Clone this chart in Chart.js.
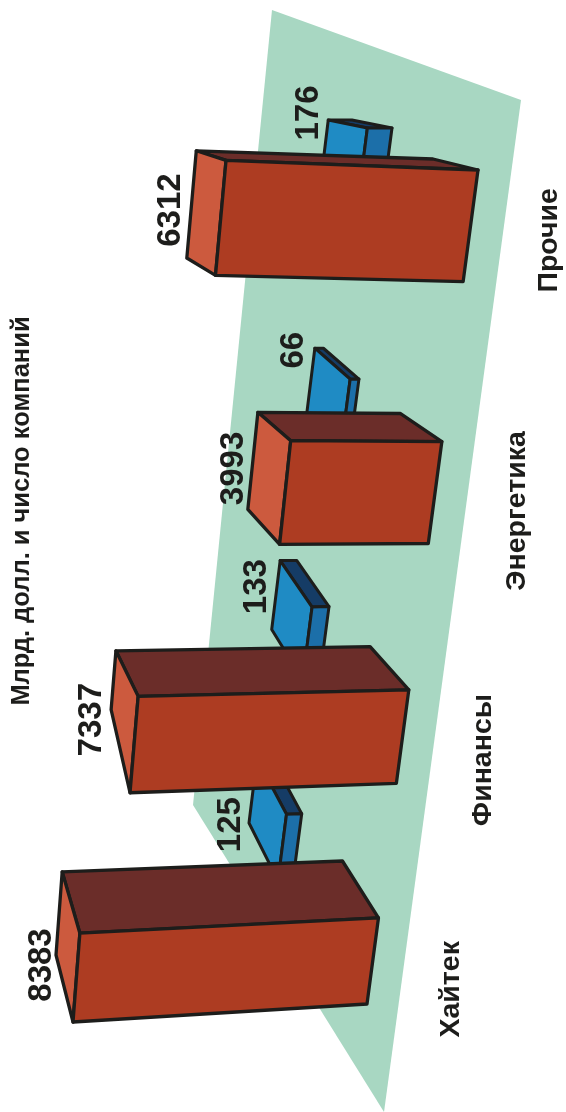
<!DOCTYPE html>
<html>
<head>
<meta charset="utf-8">
<style>
  html, body { margin: 0; padding: 0; background: #fff; }
  canvas { display: block; }
</style>
<script src="https://cdn.jsdelivr.net/npm/chart.js@4"></script>
</head>
<body>
<canvas id="chart" width="566" height="1112"></canvas>
<script>
const categories = ['Хайтек', 'Финансы', 'Энергетика', 'Прочие'];
const capitalization = [8383, 7337, 3993, 6312];
const companies = [125, 133, 66, 176];
const axisTitle = 'Млрд. долл. и число компаний';

// the picture is a tilted 3D view, each box sits between two planes
const redFrontPlane = { p00: [367, 1004], p10: [73, 1022], p11: [140, 157], p01: [478, 170] };
const redBackPlane = { p00: [332, 942], p10: [56, 955], p11: [116, 148], p01: [433, 159] };
const blueFrontPlane = { p00: [293, 880], p10: [269, 881], p11: [364, 128], p01: [392, 128] };
const blueBackPlane = { p00: [264, 823], p10: [240, 823], p11: [325, 120], p01: [352, 120] };
const floorCorners = [[272, 10], [521, 100], [384, 1112], [193, 805]];

const redFaces = { front: '#ad3c22', cap: '#cc5a3e', side: '#6b2d29' };
const blueFaces = { front: '#1c6fa9', cap: '#1f8bc4', side: '#153c66' };
const outline = '#1d1d1b';

// the finance box has a shorter far edge on its end face in the drawing
const redCapTrim = [0, 0.35, 0, 0];
const blueCapTrim = [0, 0, 0, 0];

// label nudges from their anchor corner
const redLabelShift = [[-14, 10], [-19, 10], [-14, -41], [-16, -48]];
const blueLabelShift = [[-26, 66], [-23, 26], [-21, 2], [-19, -7]];
const categoryShift = [[78, 28], [81, 23], [82, 18], [79, 14]];

// unit square (t, s) to a quad, Heckbert's formula
function makePlane(q) {
    const { p00, p10, p11, p01 } = q;
    const sx = p00[0] - p10[0] + p11[0] - p01[0];
    const sy = p00[1] - p10[1] + p11[1] - p01[1];
    const dx1 = p10[0] - p11[0], dy1 = p10[1] - p11[1];
    const dx2 = p01[0] - p11[0], dy2 = p01[1] - p11[1];
    const d = dx1 * dy2 - dx2 * dy1;
    const g = (sx * dy2 - dx2 * sy) / d;
    const h = (dx1 * sy - sx * dy1) / d;
    return function(t, s) {
        const w = 1 + g * t + h * s;
        return [
            (p00[0] + (p10[0] * (1 + g) - p00[0]) * t + (p01[0] * (1 + h) - p00[0]) * s) / w,
            (p00[1] + (p10[1] * (1 + g) - p00[1]) * t + (p01[1] * (1 + h) - p00[1]) * s) / w
        ];
    };
}

function fillFace(ctx, points, color) {
    ctx.beginPath();
    points.forEach((p, i) => i ? ctx.lineTo(p[0], p[1]) : ctx.moveTo(p[0], p[1]));
    ctx.closePath();
    ctx.fillStyle = color;
    ctx.fill();
    ctx.stroke();
}

function rotatedText(ctx, text, x, y, font) {
    ctx.save();
    ctx.translate(x, y);
    ctx.rotate(-Math.PI / 2);
    ctx.font = font;
    ctx.fillStyle = outline;
    ctx.textAlign = 'center';
    ctx.textBaseline = 'middle';
    ctx.fillText(text, 0, 0);
    ctx.restore();
}

// draws one row of boxes from the bar elements that Chart.js laid out
function drawRow(chart, datasetIndex, frontQuad, backQuad, faces, width, capTrim, labelShift, font) {
    const ctx = chart.ctx;
    const meta = chart.getDatasetMeta(datasetIndex);
    const scale = chart.scales[meta.xAxisID];
    const front = makePlane(frontQuad);
    const back = makePlane(backQuad);
    const bars = meta.data;
    const yLow = bars[0].y + bars[0].height / 2;
    const yHigh = bars[bars.length - 1].y - bars[bars.length - 1].height / 2;
    const x0 = scale.getPixelForValue(scale.min);
    const x1 = scale.getPixelForValue(scale.max);
    const toT = px => (px - x0) / (x1 - x0);
    const toS = py => (yLow - py) / (yLow - yHigh);

    ctx.save();
    ctx.lineWidth = width;
    ctx.lineJoin = 'round';
    ctx.strokeStyle = outline;
    bars.forEach((bar, i) => {
        const t = toT(bar.x);
        const lo = toS(bar.y + bar.height / 2);
        const hi = toS(bar.y - bar.height / 2);
        const backLo = lo + (hi - lo) * capTrim[i];
        fillFace(ctx, [front(0, hi), front(t, hi), back(t, hi), back(0, hi)], faces.side);
        fillFace(ctx, [front(t, hi), front(t, lo), back(t, backLo), back(t, hi)], faces.cap);
        fillFace(ctx, [front(0, lo), front(0, hi), front(t, hi), front(t, lo)], faces.front);
    });
    ctx.restore();

    bars.forEach((bar, i) => {
        const t = toT(bar.x);
        const lo = toS(bar.y + bar.height / 2);
        const hi = toS(bar.y - bar.height / 2);
        const anchor = back(t, datasetIndex === 0 ? lo + (hi - lo) * capTrim[i] : hi);
        const value = chart.data.datasets[datasetIndex].data[i];
        rotatedText(ctx, String(value), anchor[0] + labelShift[i][0], anchor[1] + labelShift[i][1], font);
    });
}

const boxesPlugin = {
    id: 'boxes',
    beforeDatasetsDraw(chart) {
        const ctx = chart.ctx;
        ctx.save();
        ctx.beginPath();
        floorCorners.forEach((p, i) => i ? ctx.lineTo(p[0], p[1]) : ctx.moveTo(p[0], p[1]));
        ctx.closePath();
        ctx.fillStyle = '#a8d7c2';
        ctx.fill();
        ctx.restore();
    },
    afterDatasetsDraw(chart) {
        drawRow(chart, 1, blueFrontPlane, blueBackPlane, blueFaces, 3, blueCapTrim, blueLabelShift, 'bold 33px "Liberation Sans"');
        drawRow(chart, 0, redFrontPlane, redBackPlane, redFaces, 3.3, redCapTrim, redLabelShift, 'bold 33px "Liberation Sans"');

        // category names follow the floor edge
        const meta = chart.getDatasetMeta(0);
        const yLow = meta.data[0].y + meta.data[0].height / 2;
        const last = meta.data[meta.data.length - 1];
        const yHigh = last.y - last.height / 2;
        const front = makePlane(redFrontPlane);
        categories.forEach((name, i) => {
            const base = front(0, (yLow - meta.data[i].y) / (yLow - yHigh));
            rotatedText(chart.ctx, name, base[0] + categoryShift[i][0], base[1] + categoryShift[i][1], 'bold 28.5px "Liberation Sans"');
        });
    }
};

new Chart(document.getElementById('chart').getContext('2d'), {
    type: 'bar',
    plugins: [boxesPlugin],
    data: {
        labels: categories,
        datasets: [
            {
                label: 'Млрд. долл.',
                data: capitalization,
                xAxisID: 'x',
                backgroundColor: 'transparent',
                barPercentage: 0.4,
                categoryPercentage: 1
            },
            {
                label: 'Число компаний',
                data: companies,
                xAxisID: 'x2',
                backgroundColor: 'transparent',
                barPercentage: 0.34,
                categoryPercentage: 1
            }
        ]
    },
    options: {
        indexAxis: 'y',
        responsive: false,
        animation: false,
        layout: { padding: { left: 7, bottom: 90 } },
        datasets: { bar: { grouped: false } },
        plugins: { legend: { display: false }, tooltip: { enabled: false } },
        scales: {
            x: { display: false, reverse: true, min: 0, max: 8383 },
            x2: { axis: 'x', display: false, reverse: true, min: 0, max: 200 },
            y: {
                reverse: true,
                grid: { display: false },
                border: { display: false },
                ticks: { display: false },
                title: {
                    display: true,
                    text: axisTitle,
                    color: outline,
                    padding: 0,
                    font: { family: '"Liberation Sans"', size: 25.5, weight: 'bold' }
                }
            }
        }
    }
});
</script>
</body>
</html>
